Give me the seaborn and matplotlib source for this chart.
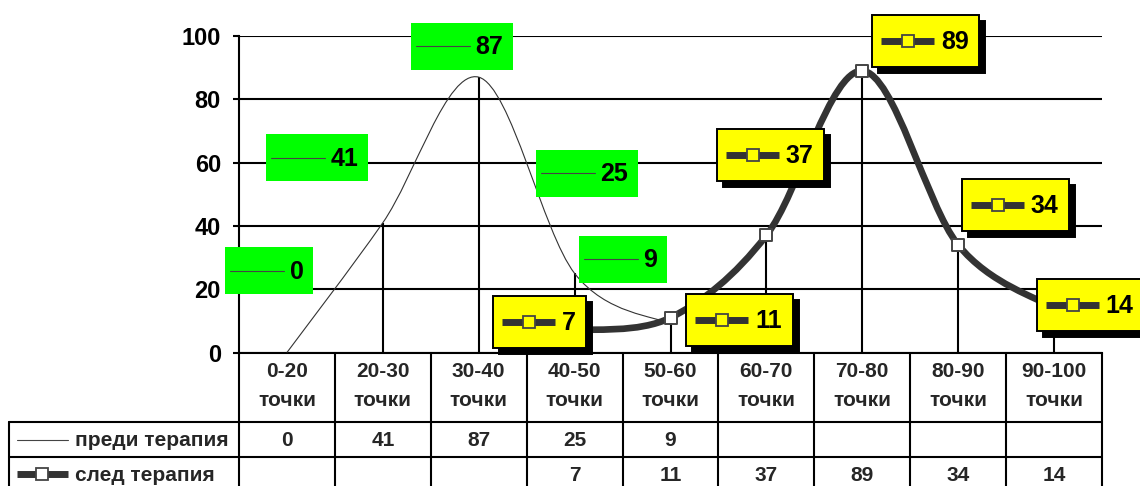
import numpy as np
import pandas as pd
import matplotlib
matplotlib.use("Agg")
import matplotlib.pyplot as plt
import matplotlib.transforms as mtransforms
from matplotlib.path import Path
from matplotlib.patches import PathPatch, Rectangle
from matplotlib.lines import Line2D
import seaborn as sns

sns.set_theme(style="white")
plt.rcParams["font.family"] = ["Liberation Sans", "DejaVu Sans"]
plt.rcParams["font.weight"] = "bold"

# ── data ────────────────────────────────────────────────
categories = ["0-20", "20-30", "30-40", "40-50", "50-60",
              "60-70", "70-80", "80-90", "90-100"]
unit_label = "точки"
before_name = "преди терапия"
after_name = "след терапия"
before_vals = [0, 41, 87, 25, 9, None, None, None, None]
after_vals = [None, None, None, 7, 11, 37, 89, 34, 14]
y_ticks = [0, 20, 40, 60, 80, 100]

# label box offsets from their point, in pixels (x right, y down)
green_offs = [(-18, -82), (-66, -65), (-17, -31), (12, -100), (-48, -65)]
yellow_offs = [(-35, -8), (69, 2), (4, -80), (63, -30), (57, -40), (36, -3)]

df = pd.DataFrame({"pos": range(len(categories)), "cat": categories,
                   "before": before_vals, "after": after_vals})
bef = df.dropna(subset=["before"])
aft = df.dropna(subset=["after"])

W, H = 1140, 486
LINE = "#333333"
TABLE_FS = 15
fig = plt.figure(figsize=(W / 100, H / 100), dpi=100)
ax = fig.add_axes([239 / W, 1 - 352.5 / H, 863 / W, 316.5 / H])
ax.set_xlim(-0.5, len(categories) - 0.5)
ax.set_ylim(0, 100)


def smooth_path(xs, ys):
    # Excel-like smoothed line as cubic bezier segments through the points
    pts = np.column_stack([xs, ys]).astype(float)
    n = len(pts)
    verts, codes = [pts[0]], [Path.MOVETO]
    for i in range(n - 1):
        p0, p1 = pts[max(i - 1, 0)], pts[i]
        p2, p3 = pts[i + 1], pts[min(i + 2, n - 1)]
        verts += [p1 + (p2 - p0) / 6, p2 - (p3 - p1) / 6, p2]
        codes += [Path.CURVE4] * 3
    return Path(verts, codes)


# grid, spines, ticks
ax.set_yticks(y_ticks)
ax.set_xticks([])
ax.grid(axis="y", color="black", lw=1.5)
ax.grid(axis="x", visible=False)
for s in ["top", "right"]:
    ax.spines[s].set_visible(False)
for s in ["left", "bottom"]:
    ax.spines[s].set_color("black")
    ax.spines[s].set_linewidth(1.5)
ax.tick_params(axis="y", left=True, length=4.5, width=1.5, pad=8.5,
               labelsize=17, colors="black")
ax.set_facecolor("white")

# drop lines
top = df[["before", "after"]].max(axis=1)
ax.vlines(df["pos"], 0, top, color="black", lw=1.5, zorder=2)

# series
ax.add_patch(PathPatch(smooth_path(bef["pos"], bef["before"]), fill=False,
                       ec=LINE, lw=0.8, zorder=3))
ax.add_patch(PathPatch(smooth_path(aft["pos"], aft["after"]), fill=False,
                       ec=LINE, lw=4.8, zorder=3, capstyle="butt"))
sns.scatterplot(data=aft, x="pos", y="after", marker="s", s=64, color="white",
                edgecolor="#444444", linewidth=1.4, ax=ax, zorder=4)
ax.set_xlabel("")
ax.set_ylabel("")
ax.set_xlim(-0.5, len(categories) - 0.5)
ax.set_ylim(0, 100)


def to_fig(x, y):
    return x / W, 1 - y / H


def point_px(x, y):
    X, Y = ax.transData.transform((x, y))
    return X, H - Y


def green_label(cx, cy, val):
    txt = f"{val:.0f}"
    w, h = 74 + 14 * len(txt), 47
    left = cx - w / 2
    fig.add_artist(Rectangle(to_fig(left, cy + h / 2), w / W, h / H,
                             transform=fig.transFigure, fc="#00FF00",
                             ec="none", zorder=5))
    fig.add_artist(Line2D([(left + 5) / W, (left + 59) / W], [1 - cy / H] * 2,
                          transform=fig.transFigure, color="#444444", lw=0.8,
                          zorder=6))
    fig.text((left + 65) / W, 1 - (cy + 1) / H, txt, fontsize=18, ha="left",
             va="center", color="black", zorder=6)


def yellow_label(cx, cy, val):
    txt = f"{val:.0f}"
    w, h = 79 + 14 * len(txt), 52
    left = cx - w / 2
    fig.add_artist(Rectangle(to_fig(left + 6, cy + h / 2 + 6), w / W, h / H,
                             transform=fig.transFigure, fc="black",
                             ec="black", lw=1.4, zorder=5))
    fig.add_artist(Rectangle(to_fig(left, cy + h / 2), w / W, h / H,
                             transform=fig.transFigure, fc="#FFFF00",
                             ec="black", lw=1.4, zorder=6))
    fig.add_artist(Line2D([(left + 9) / W, (left + 62) / W], [1 - cy / H] * 2,
                          transform=fig.transFigure, color=LINE, lw=5,
                          solid_capstyle="butt", zorder=7))
    fig.add_artist(Line2D([(left + 36) / W], [1 - cy / H], marker="s", ms=9,
                          mfc="#FFFF00", mec="#444444", mew=1.3,
                          transform=fig.transFigure, zorder=8))
    fig.text((left + 69) / W, 1 - (cy + 1) / H, txt, fontsize=18, ha="left",
             va="center", color="black", zorder=8)


for (x, v), (dx, dy) in zip(zip(bef["pos"], bef["before"]), green_offs):
    X, Y = point_px(x, v)
    green_label(X + dx, Y + dy, v)
for (x, v), (dx, dy) in zip(zip(aft["pos"], aft["after"]), yellow_offs):
    X, Y = point_px(x, v)
    yellow_label(X + dx, Y + dy, v)

# ── data table under the axis ───────────────────────────
bt = mtransforms.blended_transform_factory(ax.transData, fig.transFigure)
x_axis_y, row1_y, row2_y = 352.5, 422, 457
for k in range(len(categories) + 1):
    fig.add_artist(Line2D([k - 0.5] * 2, [1 - x_axis_y / H, 0], transform=bt,
                          color="black", lw=1.5))
for yy in [row1_y, row2_y]:
    fig.add_artist(Line2D([9 / W, 1102 / W], [1 - yy / H] * 2,
                          transform=fig.transFigure, color="black", lw=1.5))
fig.add_artist(Line2D([9 / W] * 2, [1 - row1_y / H, 0],
                      transform=fig.transFigure, color="black", lw=1.5))

for i, c in enumerate(categories):
    fig.text(i, 1 - 371 / H, c, transform=bt, ha="center", va="center",
             fontsize=TABLE_FS)
    fig.text(i, 1 - 400 / H, unit_label, transform=bt, ha="center",
             va="center", fontsize=TABLE_FS)
for i, (b, a) in enumerate(zip(before_vals, after_vals)):
    if b is not None:
        fig.text(i, 1 - 440 / H, f"{b}", transform=bt, ha="center",
                 va="center", fontsize=TABLE_FS)
    if a is not None:
        fig.text(i, 1 - 475 / H, f"{a}", transform=bt, ha="center",
                 va="center", fontsize=TABLE_FS)

# legend keys in the table
fig.add_artist(Line2D([17 / W, 68 / W], [1 - 440 / H] * 2,
                      transform=fig.transFigure, color="#444444", lw=0.8))
fig.text(75 / W, 1 - 440 / H, before_name, ha="left", va="center",
         fontsize=TABLE_FS)
fig.add_artist(Line2D([17 / W, 68 / W], [1 - 474 / H] * 2,
                      transform=fig.transFigure, color=LINE, lw=5,
                      solid_capstyle="butt"))
fig.add_artist(Line2D([42 / W], [1 - 474 / H], marker="s", ms=9, mfc="white",
                      mec="#444444", mew=1.3, transform=fig.transFigure))
fig.text(75 / W, 1 - 475 / H, after_name, ha="left", va="center",
         fontsize=TABLE_FS)

fig.savefig("out.png", dpi=100, facecolor="white")
